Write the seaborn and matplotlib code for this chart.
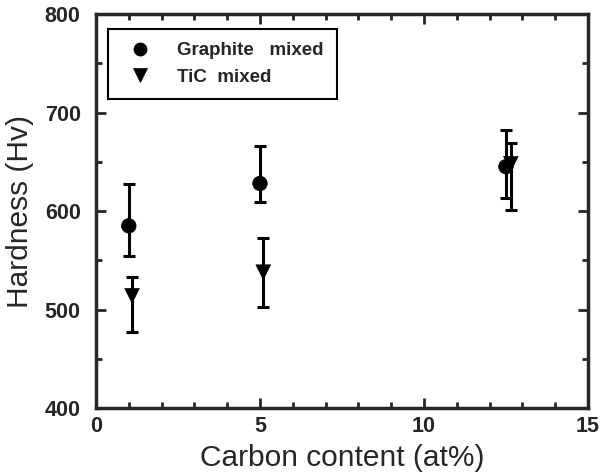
import numpy as np
import pandas as pd
import matplotlib
matplotlib.use("Agg")
import matplotlib.pyplot as plt
import seaborn as sns

# data
graphite_x = [1.0, 5.0, 12.5]
graphite_y = [585, 628, 645]
graphite_lo = [554, 609, 613]
graphite_hi = [627, 666, 682]

tic_x = [1.1, 5.1, 12.65]
tic_y = [514, 538, 648]
tic_lo = [477, 503, 601]
tic_hi = [533, 573, 669]

sns.set_style("ticks")
plt.rcParams["font.family"] = ["Liberation Sans", "DejaVu Sans"]

df = pd.DataFrame({
    "x": graphite_x + tic_x,
    "y": graphite_y + tic_y,
    "lo": graphite_lo + tic_lo,
    "hi": graphite_hi + tic_hi,
    "series": ["Graphite   mixed"] * 3 + ["TiC  mixed"] * 3,
})

fig = plt.figure(figsize=(6.13, 4.74), dpi=100)
ax = fig.add_axes([0.1566, 0.139, 0.8025, 0.8315])

# error bars
for s in df["series"].unique():
    d = df[df["series"] == s]
    yerr = np.vstack([d["y"] - d["lo"], d["hi"] - d["y"]])
    ax.errorbar(d["x"], d["y"], yerr=yerr, fmt="none", ecolor="black",
                elinewidth=2.2, capsize=4, capthick=2.2, zorder=2)

sns.scatterplot(data=df, x="x", y="y", hue="series", style="series",
                markers={"Graphite   mixed": "o", "TiC  mixed": "v"},
                palette={"Graphite   mixed": "black", "TiC  mixed": "black"},
                s=110, edgecolor="black", linewidth=0.5, ax=ax, zorder=3)

ax.set_xlim(0, 15)
ax.set_ylim(400, 800)
ax.set_xticks([0, 5, 10, 15])
ax.set_yticks([400, 500, 600, 700, 800])
ax.set_xticks(np.arange(0, 16, 1), minor=True)
ax.set_yticks(np.arange(400, 801, 50), minor=True)
ax.tick_params(which="both", direction="in", top=True, right=True,
               width=2, labelsize=15.5)
ax.tick_params(which="major", length=7)
ax.tick_params(which="minor", length=4)
ax.tick_params(axis="y", pad=11)
ax.tick_params(axis="x", pad=6)
for lbl in ax.get_xticklabels() + ax.get_yticklabels():
    lbl.set_fontweight("bold")
for sp in ax.spines.values():
    sp.set_linewidth(2.5)
    sp.set_visible(True)

ax.set_xlabel("Carbon content (at%)", fontsize=21.5, labelpad=5)
ax.set_ylabel("Hardness (Hv)", fontsize=21.5, labelpad=8)

leg = ax.legend(loc="upper left", bbox_to_anchor=(0.024, 0.962),
                borderaxespad=0, frameon=True,
                fancybox=False, edgecolor="black", framealpha=1,
                prop={"size": 13.5, "weight": "bold"}, handletextpad=1.0,
                borderpad=0.7, labelspacing=0.5, markerscale=0.9)
leg.get_frame().set_linewidth(1.5)

fig.savefig("out.png", dpi=100)
